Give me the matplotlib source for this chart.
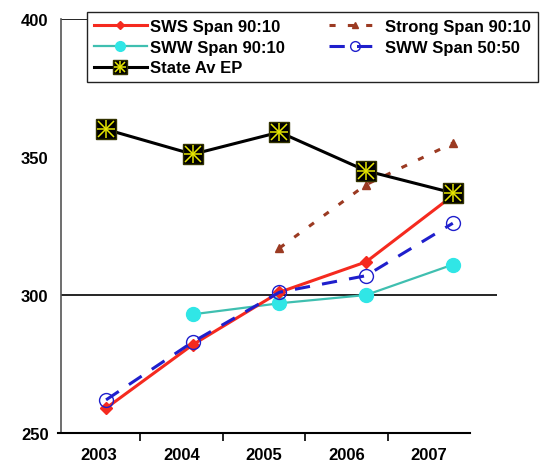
import matplotlib.pyplot as plt

plt.rcParams['font.family'] = ['Liberation Sans', 'DejaVu Sans']
plt.rcParams['font.weight'] = 'bold'

years = ["2003", "2004", "2005", "2006", "2007"]
x_all = [0, 1, 2, 3, 4]

sws_90 = [259, 282, 301, 312, 336]
strong_90 = [317, 340, 355]
strong_x = [2, 3, 4]
sww_90 = [293, 297, 300, 311]
sww_90_x = [1, 2, 3, 4]
sww_50 = [262, 283, 301, 307, 326]
state_av = [360, 351, 359, 345, 337]

fig = plt.figure(figsize=(5.54, 4.64), dpi=100)
ax = fig.add_axes([61 / 554, 1 - 434 / 464, 436 / 554, 414 / 464])

ax.axhline(300, color='black', lw=1.2, zorder=1)
ax.axhline(400, color='black', lw=1.2, zorder=1)

h_sws, = ax.plot(x_all, sws_90, color='#f52a1f', lw=2.2, marker='D', ms=6,
                 label='SWS Span 90:10', zorder=4)
h_sww90, = ax.plot(sww_90_x, sww_90, color='#3fbfb0', lw=1.6, marker='o', ms=10,
                   mfc='#30e6e6', mec='#30e6e6', label='SWW Span 90:10', zorder=3)
h_strong, = ax.plot(strong_x, strong_90, color='#9b3a22', lw=2.2, ls=(0, (2, 4)),
                    marker='^', ms=6, label='Strong Span 90:10', zorder=3)
h_sww50, = ax.plot(x_all, sww_50, color='#1f1fcc', lw=2.2, ls=(0, (5, 4)),
                   marker='o', ms=10, mfc='none', mec='#1f1fcc', mew=1,
                   label='SWW Span 50:50', zorder=5)
h_state, = ax.plot(x_all, state_av, color='black', lw=2.2, marker='s', ms=15,
                   mfc='black', mec='#333300', zorder=6)
h_x, = ax.plot(x_all, state_av, ls='none', marker='x', ms=11, mec='#e6e600',
               mew=1.1, zorder=7)
h_p, = ax.plot(x_all, state_av, ls='none', marker='+', ms=13, mec='#e6e600',
               mew=1.1, zorder=7)

ax.set_xlim(-0.52, 4.51)
ax.set_ylim(250, 400)
ax.set_yticks([250, 300, 350, 400])
ax.tick_params(axis='y', length=0, pad=9, labelsize=12)
ax.set_xticks([])
for s in ['top', 'right', 'bottom']:
    ax.spines[s].set_visible(False)
ax.spines['left'].set_color('#555555')
ax.spines['left'].set_linewidth(1.2)
ax.patch.set_visible(False)

# category axis
axc = fig.add_axes([58 / 554, 1 - 434 / 464, 412 / 554, 0.001])
axc.set_xlim(-0.5, 4.5)
axc.set_yticks([])
axc.set_xticks(x_all)
axc.set_xticklabels(years, fontsize=12, fontweight='bold')
axc.set_xticks([0.5, 1.5, 2.5, 3.5], minor=True)
axc.tick_params(axis='x', which='major', length=0, pad=10)
axc.tick_params(axis='x', which='minor', length=6, width=1.2, direction='out')
for s in ['top', 'right', 'left']:
    axc.spines[s].set_visible(False)
axc.spines['bottom'].set_linewidth(1.5)
axc.patch.set_visible(False)

leg = fig.legend([h_sws, h_sww90, (h_state, h_x, h_p), h_strong, h_sww50],
                 ['SWS Span 90:10', 'SWW Span 90:10', 'State Av EP',
                  'Strong Span 90:10', 'SWW Span 50:50'],
                 ncol=2, loc='upper left', bbox_to_anchor=(87 / 554, 1 - 13 / 464),
                 borderaxespad=0, fontsize=12, handlelength=3.2, columnspacing=2.6,
                 handletextpad=0.2, labelspacing=0.35, borderpad=0.4, fancybox=False,
                 framealpha=1, edgecolor='#222222', markerscale=0.7)
leg.get_frame().set_linewidth(1.0)

fig.savefig('out.png', dpi=100)
